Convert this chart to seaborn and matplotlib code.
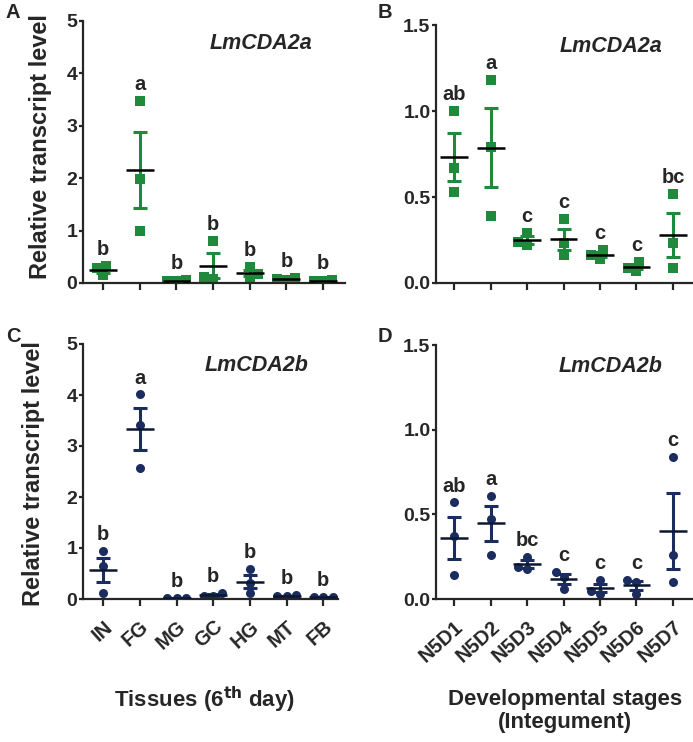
import numpy as np
import pandas as pd
import matplotlib
matplotlib.use("Agg")
import matplotlib.pyplot as plt
import seaborn as sns

# categories
tissues = ["IN", "FG", "MG", "GC", "HG", "MT", "FB"]
stages = ["N5D1", "N5D2", "N5D3", "N5D4", "N5D5", "N5D6", "N5D7"]

# replicate values (3 per group)
cda2a_tissue = [[0.32, 0.28, 0.15], [3.48, 1.98, 1.00], [0.05, 0.04, 0.03],
                [0.80, 0.12, 0.08], [0.30, 0.17, 0.10], [0.10, 0.08, 0.05],
                [0.05, 0.04, 0.03]]
cda2a_stage = [[1.00, 0.67, 0.53], [1.18, 0.79, 0.39], [0.29, 0.24, 0.22],
               [0.37, 0.23, 0.16], [0.19, 0.16, 0.14], [0.12, 0.09, 0.07],
               [0.52, 0.23, 0.09]]
cda2b_tissue = [[0.95, 0.64, 0.12], [4.01, 3.41, 2.57], [0.02, 0.02, 0.02],
                [0.12, 0.06, 0.05], [0.58, 0.32, 0.12], [0.07, 0.06, 0.05],
                [0.04, 0.03, 0.03]]
cda2b_stage = [[0.57, 0.37, 0.14], [0.61, 0.47, 0.26], [0.25, 0.19, 0.18],
               [0.16, 0.13, 0.06], [0.11, 0.05, 0.03], [0.11, 0.10, 0.03],
               [0.84, 0.26, 0.10]]

# significance letters
letters_a_tissue = ["b", "a", "b", "b", "b", "b", "b"]
letters_a_stage = ["ab", "a", "c", "c", "c", "c", "bc"]
letters_b_tissue = ["b", "a", "b", "b", "b", "b", "b"]
letters_b_stage = ["ab", "a", "bc", "c", "c", "c", "c"]

GREEN = "#1f8a3b"
NAVY = "#1b2c5e"

sns.set_style("ticks")
plt.rcParams["font.family"] = ["Liberation Sans", "DejaVu Sans"]
plt.rcParams["font.weight"] = "bold"


def draw_panel(ax, cats, reps, letters, color, marker, mean_color, ymax, yticks, ylabels,
               gene, show_xlabels, xlim):
    df = pd.DataFrame({"group": np.repeat(cats, 3),
                       "value": np.concatenate(reps)})
    sns.swarmplot(data=df, x="group", y="value", order=cats, color=color,
                  marker=marker, size=6.5, ax=ax, zorder=2)
    stats = df.groupby("group")["value"].agg(["mean", "sem", "max"]).reindex(cats)
    xs = np.arange(len(cats))
    ax.errorbar(xs, stats["mean"], yerr=stats["sem"], fmt="none", ecolor=color,
                elinewidth=2.2, capsize=5, capthick=2.2, zorder=3)
    ax.hlines(stats["mean"], xs - 0.38, xs + 0.38, color=mean_color, lw=1.8, zorder=4)
    tops = np.maximum(stats["max"], stats["mean"] + stats["sem"])
    for x, t, lab in zip(xs, tops, letters):
        ax.annotate(lab, (x, t), xytext=(0, 5), textcoords="offset points",
                    ha="center", va="bottom", fontsize=14.5, fontweight="bold")
    ax.set_ylim(0, ymax)
    ax.set_xlim(*xlim)
    ax.set_yticks(yticks)
    ax.set_yticklabels(ylabels, fontsize=14, fontweight="bold")
    ax.set_xticks(xs)
    if show_xlabels:
        ax.set_xticklabels(cats, rotation=42, ha="right", va="top",
                           rotation_mode="anchor", fontsize=14.5, fontweight="bold")
    else:
        ax.set_xticklabels([])
    ax.set_xlabel("")
    ax.set_ylabel("")
    ax.text(0.68, 0.915, gene, transform=ax.transAxes, ha="center", va="center",
            fontsize=15.5, fontweight="bold", fontstyle="italic")
    sns.despine(ax=ax)
    for sp in ["left", "bottom"]:
        ax.spines[sp].set_linewidth(1.6)
    ax.tick_params(axis="y", direction="out", length=3, width=1.6, pad=1)
    ax.tick_params(axis="x", direction="out", length=5, width=1.6, pad=8)


W, H = 693, 742
fig = plt.figure(figsize=(W / 100, H / 100), dpi=100)

def px_axes(l, t, r, b):
    return fig.add_axes([l / W, 1 - b / H, (r - l) / W, (b - t) / H])

axA = px_axes(83, 21, 345, 283)
axB = px_axes(436, 25, 693, 283)
axC = px_axes(83, 344, 338, 599)
axD = px_axes(436, 345, 693, 599)

int_ticks = [0, 1, 2, 3, 4, 5]
int_labels = [str(v) for v in int_ticks]
dec_ticks = [0, 0.5, 1.0, 1.5]
dec_labels = ["0.0", "0.5", "1.0", "1.5"]

draw_panel(axA, tissues, cda2a_tissue, letters_a_tissue, GREEN, "s", "black", 5,
           int_ticks, int_labels, "LmCDA2a", False, (-0.55, 6.6))
draw_panel(axB, stages, cda2a_stage, letters_a_stage, GREEN, "s", "black", 1.5,
           dec_ticks, dec_labels, "LmCDA2a", False, (-0.5, 6.55))
draw_panel(axC, tissues, cda2b_tissue, letters_b_tissue, NAVY, "o", "#0d1730", 5,
           int_ticks, int_labels, "LmCDA2b", True, (-0.55, 6.4))
draw_panel(axD, stages, cda2b_stage, letters_b_stage, NAVY, "o", "#0d1730", 1.5,
           dec_ticks, dec_labels, "LmCDA2b", True, (-0.5, 6.55))

axA.set_ylabel("Relative transcript level", fontsize=17, fontweight="bold")
axA.yaxis.set_label_coords(-0.12, 0.52)
axC.set_ylabel("Relative transcript level", fontsize=17, fontweight="bold")
axC.yaxis.set_label_coords(-0.15, 0.49)

for lab, x, y in [("A", 6, 13), ("B", 378, 13), ("C", 6, 336), ("D", 378, 336)]:
    fig.text(x / W, 1 - y / H, lab, fontsize=14.5, fontweight="bold", ha="left", va="center")

fig.text(204 / W, 1 - 700 / H, "Tissues (6$^{\\mathbf{th}}$ day)", fontsize=16,
         fontweight="bold", ha="center", va="center")
fig.text(565 / W, 1 - 711 / H, "Developmental stages\n(Integument)", fontsize=16,
         fontweight="bold", ha="center", va="center", linespacing=1.15)

fig.savefig("out.png", dpi=100)
